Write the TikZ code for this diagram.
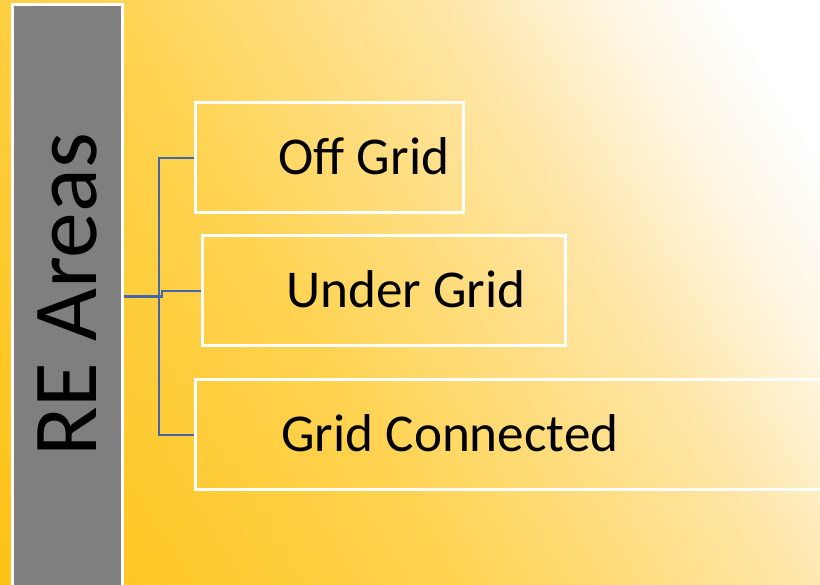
\documentclass[tikz,border=0pt]{standalone}
\usepackage{fontspec}
\setmainfont{Carlito}
\definecolor{c0}{RGB}{255,194,20}
\definecolor{c1}{RGB}{255,200,40}
\definecolor{c2}{RGB}{255,211,80}
\definecolor{c3}{RGB}{255,229,163}
\definecolor{c4}{RGB}{255,246,228}
\definecolor{barg}{RGB}{127,127,127}
\definecolor{connb}{RGB}{66,101,172}
\pgfdeclarehorizontalshading{bgshade}{100bp}{color(0bp)=(c0); color(25bp)=(c0); color(31.6bp)=(c1); color(44.3bp)=(c2); color(58.3bp)=(c3); color(66bp)=(c4); color(71bp)=(white); color(100bp)=(white)}
\begin{document}
\begin{tikzpicture}[x=1pt,y=1pt,
  sidebar/.style={draw=white, line width=3pt, fill=barg, inner sep=0pt, minimum width=110, minimum height=584, anchor=south west},
  areabox/.style={draw=white, line width=2.5pt, inner sep=0pt, anchor=south west},
  lbl/.style={inner sep=0pt, font=\fontsize{53.2}{60}\selectfont, text=black},
  relbl/.style={inner sep=0pt, font=\fontsize{91.5}{100}\selectfont, text=black},
  conn/.style={draw=connb, line width=2.3pt}]
\useasboundingbox (0,0) rectangle (820,585);
\clip (0,0) rectangle (820,585);
\shade[shading=bgshade, shading angle=31] (-95,-212.5) rectangle (915,797.5);
\node[sidebar] (bar) at (11,-5) {};
\node[relbl, rotate=90, anchor=base] (re) at (97,290) {RE Areas};
\node[areabox, minimum width=268, minimum height=110] (box1) at (194,371) {};
\node[areabox, minimum width=363, minimum height=110] (box2) at (201,238) {};
\node[areabox, minimum width=636, minimum height=110] (box3) at (194,94) {};
\node[lbl, anchor=base] (t1) at (364,410) {Off Grid};
\node[lbl, anchor=base] (t2) at (406,277) {Under Grid};
\node[lbl, anchor=base] (t3) at (450,133) {Grid Connected};
\draw[conn] (bar.east) -- ++(35,0) |- (box1.west);
\draw[conn] (bar.east) -- ++(35,0) |- (box3.west);
\draw[conn] (bar.east) -- ++(38,0) |- (box2.west);
\end{tikzpicture}
\end{document}
